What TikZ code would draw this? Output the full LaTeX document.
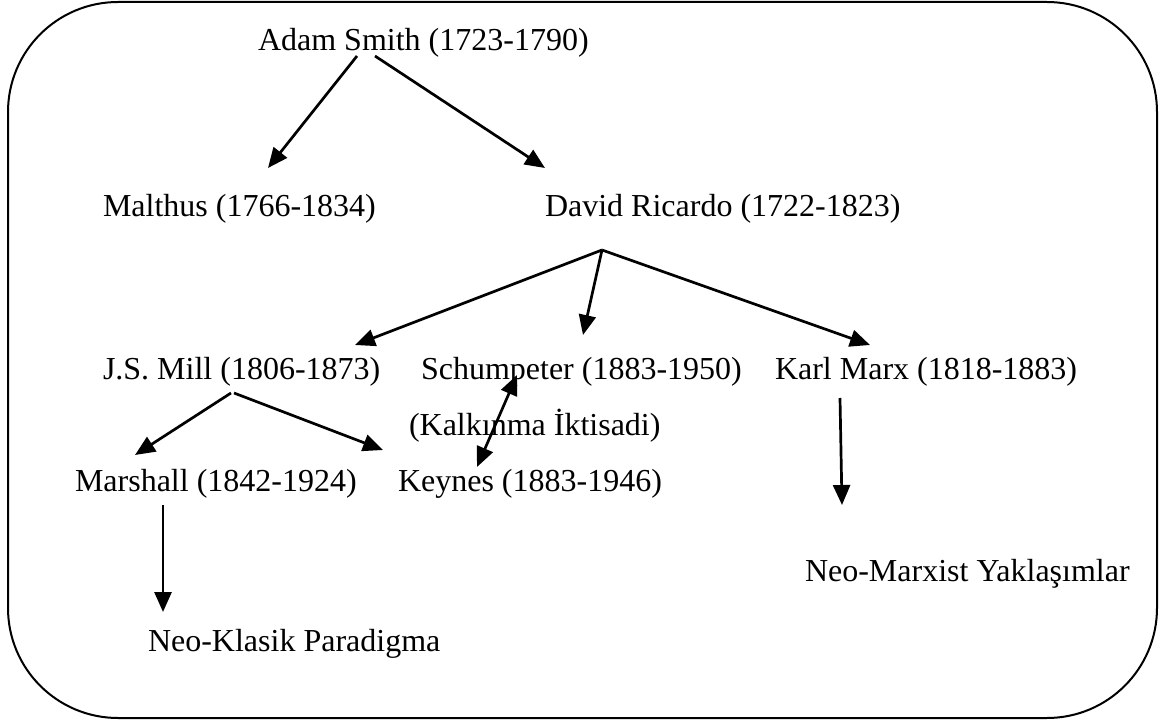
\documentclass[tikz,border=0pt]{standalone}
\usepackage{fontspec}
\setmainfont{Liberation Serif}
\usetikzlibrary{arrows.meta,calc}
\begin{document}
\begin{tikzpicture}[x=1pt,y=-1pt,
  lbl/.style={inner sep=0pt,outer sep=0pt,anchor=base west,font=\fontsize{32}{38}\selectfont},
  arr/.style={line width=2.7pt,-{Triangle[length=20pt,width=17pt]}},
  darr/.style={line width=2.7pt,{Triangle[length=20pt,width=17pt]}-{Triangle[length=20pt,width=17pt]}},
  frame/.style={line width=2pt,rounded corners=110pt}]
\useasboundingbox (0,0) rectangle (1165,722);
\draw[frame] (8,2) rectangle (1157,718);

\node[lbl] (smith) at (258,51) {Adam Smith (1723-1790)};
\node[lbl] (malthus) at (103,217) {Malthus (1766-1834)};
\node[lbl] (ricardo) at (545,217) {David Ricardo (1722-1823)};
\node[lbl] (mill) at (103,379) {J.S. Mill (1806-1873)};
\node[lbl] (schum) at (421,379) {Schumpeter (1883-1950)};
\node[lbl] (marx) at (775,379) {Karl Marx (1818-1883)};
\node[lbl] (kalk) at (409,435) {(Kalkınma İktisadi)};
\node[lbl] (marshall) at (75,491) {Marshall (1842-1924)};
\node[lbl] (keynes) at (398,491) {Keynes (1883-1946)};
\node[lbl] (neomarx) at (805,581) {Neo-Marxist Yaklaşımlar};
\node[lbl] (neoklasik) at (148,651) {Neo-Klasik Paradigma};

\coordinate (split) at ($(ricardo.base west)+(57,33)$);

\draw[arr] ($(smith.base west)+(99,5)$) -- ($(malthus.base west)+(165,-49)$);
\draw[arr] ($(smith.base west)+(117,5)$) -- ($(ricardo.base west)+(0,-49)$);
\draw[arr] (split) -- ($(mill.base west)+(252,-34)$);
\draw[arr] (split) -- ($(schum.base west)+(162,-44)$);
\draw[arr] (split) -- ($(marx.base west)+(95,-34)$);
\draw[arr] ($(mill.base west)+(128,14)$) -- ($(marshall.base west)+(60,-36)$);
\draw[arr] ($(mill.base west)+(131,14)$) -- ($(keynes.base west)+(-15,-41)$);
\draw[darr] ($(keynes.base west)+(79,-24)$) -- ($(schum.base west)+(96,-4)$);
\draw[arr] ($(marx.base west)+(65,19)$) -- ($(neomarx.base west)+(37,-76)$);
\draw[arr] ($(marshall.base west)+(88,14)$) -- ($(neoklasik.base west)+(15,-39)$);
\end{tikzpicture}
\end{document}
